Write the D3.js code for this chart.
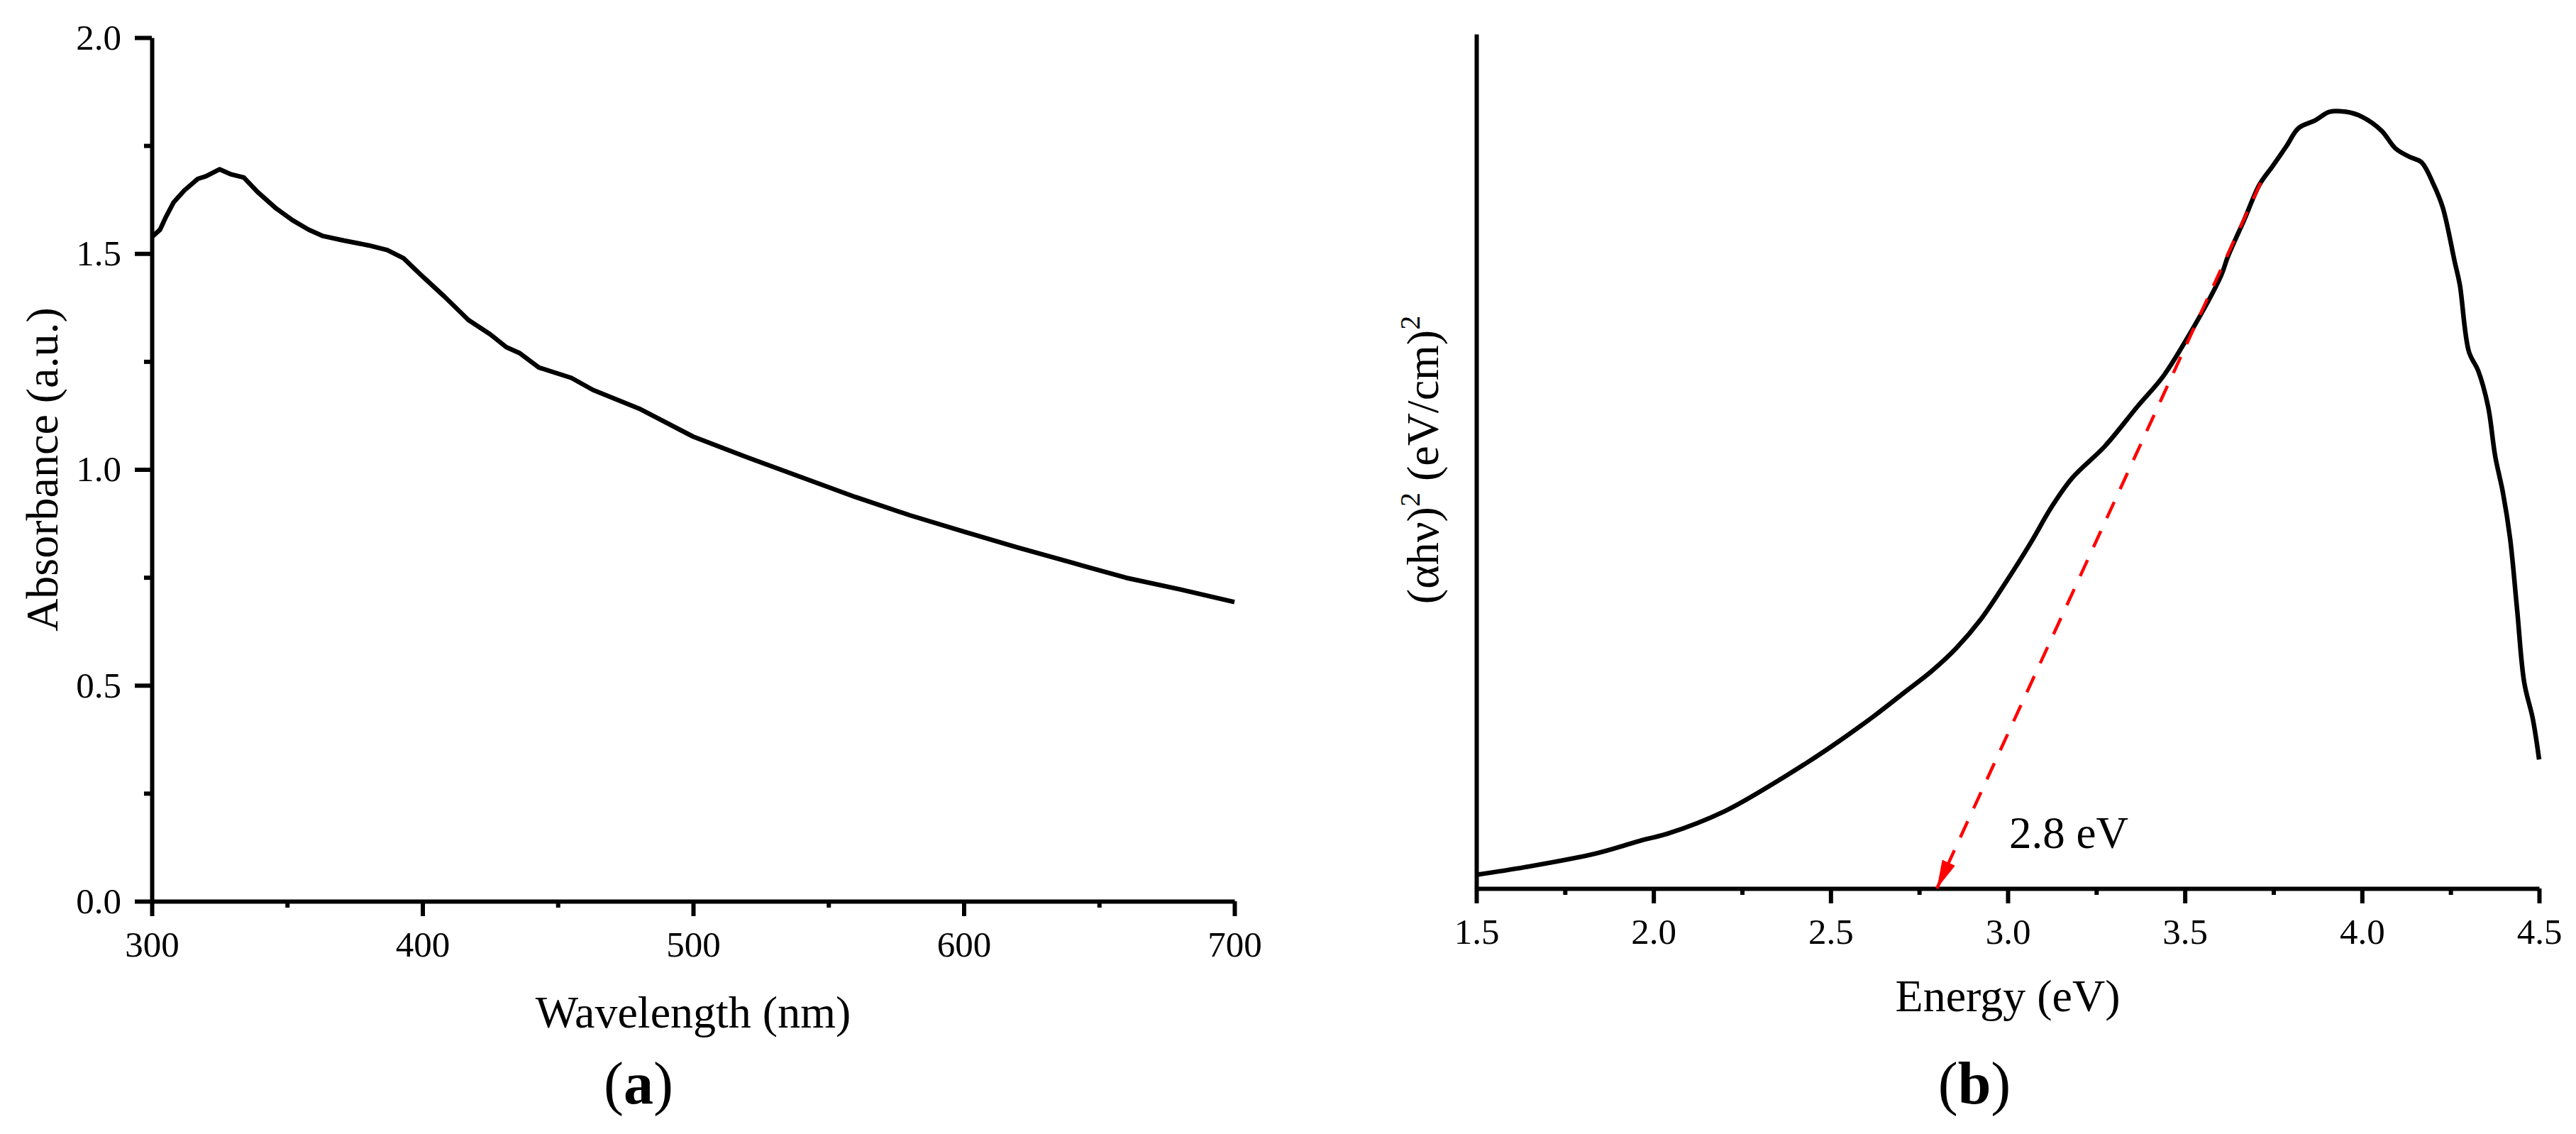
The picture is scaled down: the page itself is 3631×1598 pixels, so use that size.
<!DOCTYPE html>
<html>
<head>
<meta charset="utf-8">
<script src="https://cdn.jsdelivr.net/npm/d3@7"></script>
<style>
  html, body { margin: 0; padding: 0; background: #fff; }
  svg { display: block; }
  svg text { font-family: "Liberation Serif", "Times New Roman", serif; fill: #000; }
</style>
</head>
<body>
<svg id="chart" width="3631" height="1598"></svg>
<script>
// ---- data ----
// (a) UV-vis absorbance
const wavelength = [300, 303, 305, 308, 312, 317, 320, 325, 329, 334, 339, 346, 352, 358, 363, 371, 380, 387,
  393, 399, 408, 417, 425, 431, 436, 443, 455, 463, 480, 500, 520, 540, 560, 580, 600, 620, 640, 660, 680, 700];
const absorbance = [1.538, 1.555, 1.582, 1.618, 1.646, 1.673, 1.679, 1.695, 1.684, 1.676, 1.643, 1.604, 1.577, 1.555,
  1.541, 1.530, 1.519, 1.508, 1.489, 1.453, 1.401, 1.346, 1.313, 1.283, 1.269, 1.236, 1.212, 1.184, 1.141, 1.076,
  1.028, 0.982, 0.936, 0.894, 0.856, 0.819, 0.784, 0.749, 0.722, 0.693];
const wlTicks = [300, 400, 500, 600, 700];
const wlMinor = [350, 450, 550, 650];
const absTicks = [0.0, 0.5, 1.0, 1.5, 2.0];
const absMinor = [0.25, 0.75, 1.25, 1.75];

// (b) Tauc plot, (alpha h nu)^2 in arbitrary units (0-100 = axis height)
const energy = [1.5, 1.638, 1.838, 1.972, 2.039, 2.199, 2.363, 2.491, 2.62, 2.713, 2.784, 2.854, 2.924, 2.994,
  3.064, 3.123, 3.181, 3.275, 3.368, 3.438, 3.508, 3.602, 3.621, 3.667, 3.711, 3.747, 3.787, 3.821, 3.868, 3.908,
  3.955, 4.001, 4.055, 4.095, 4.136, 4.168, 4.202, 4.228, 4.262, 4.276, 4.302, 4.328, 4.356, 4.376, 4.398, 4.418,
  4.438, 4.458, 4.482, 4.5];
const tauc = [1.6, 2.5, 4.1, 5.7, 6.4, 9.0, 12.9, 16.3, 20.1, 23.1, 25.4, 28.1, 31.5, 35.8,
  40.4, 44.6, 48.0, 51.8, 56.5, 59.9, 64.5, 71.7, 73.9, 78.2, 82.4, 84.5, 86.9, 89.0, 89.9, 90.9,
  90.9, 90.3, 88.7, 86.6, 85.6, 85.0, 82.4, 79.7, 73.3, 70.7, 62.8, 60.6, 56.4, 50.6, 46.3, 41.0,
  32.6, 24.1, 19.9, 15.1];
const eTicks = [1.5, 2.0, 2.5, 3.0, 3.5, 4.0, 4.5];
const eMinor = [1.75, 2.25, 2.75, 3.25, 3.75, 4.25];
const fitLine = [[3.714, 82.6], [2.8, 0]];
const gapLabel = '2.8 eV';

// ---- layout ----
const SERIF = 'Liberation Serif';
const TICK_FONT = 51;
const TITLE_FONT = 64;
const AXIS_W = 6;
const LINE_W = 6.5;

const svg = d3.select('#chart');

const xA = d3.scaleLinear().domain([300, 700]).range([214, 1740]);
const yA = d3.scaleLinear().domain([0, 2]).range([1270, 53]);
const xB = d3.scaleLinear().domain([1.5, 4.5]).range([2081, 3579]);
const yB = d3.scaleLinear().domain([0, 100]).range([1252, 48]);

function styleAxis(g) {
    g.attr('font-family', SERIF).attr('font-size', TICK_FONT);
    g.selectAll('path.domain').attr('stroke-width', AXIS_W).attr('stroke', '#000');
    g.selectAll('.tick line').attr('stroke-width', AXIS_W).attr('stroke', '#000');
    g.selectAll('.tick text').attr('font-size', TICK_FONT).attr('font-family', SERIF).attr('fill', '#000');
}

function bottomAxis(x, y0, major, minor, fmt) {
    const gMin = svg.append('g').attr('transform', 'translate(0,' + y0 + ')')
        .call(d3.axisBottom(x).tickValues(minor).tickSize(9).tickFormat(''));
    gMin.select('path.domain').remove();
    styleAxis(gMin);

    const g = svg.append('g').attr('transform', 'translate(0,' + y0 + ')')
        .call(d3.axisBottom(x).tickValues(major).tickSize(21).tickSizeOuter(0).tickFormat(fmt));
    styleAxis(g);
    g.selectAll('.tick text').attr('y', 78).attr('dy', 0);
    return g;
}

// ---- panel (a) ----
bottomAxis(xA, yA(0), wlTicks, wlMinor, d3.format('d'));

const gAyMin = svg.append('g').attr('transform', 'translate(' + xA(300) + ',0)')
    .call(d3.axisLeft(yA).tickValues(absMinor).tickSize(11).tickFormat(''));
gAyMin.select('path.domain').remove();
styleAxis(gAyMin);

const gAy = svg.append('g').attr('transform', 'translate(' + xA(300) + ',0)')
    .call(d3.axisLeft(yA).tickValues(absTicks).tickSize(24).tickSizeOuter(0).tickPadding(19).tickFormat(d3.format('.1f')));
styleAxis(gAy);
gAy.selectAll('.tick text').attr('dy', '0.32em');

svg.append('path')
    .datum(d3.zip(wavelength, absorbance))
    .attr('fill', 'none')
    .attr('stroke', '#000')
    .attr('stroke-width', LINE_W)
    .attr('stroke-linejoin', 'round')
    .attr('d', d3.line().x(d => xA(d[0])).y(d => yA(d[1])));

svg.append('text')
    .attr('x', (xA(300) + xA(700)) / 2).attr('y', 1448)
    .attr('text-anchor', 'middle').attr('font-size', TITLE_FONT)
    .text('Wavelength (nm)');

svg.append('text')
    .attr('transform', 'translate(81,' + (yA(0) + yA(2)) / 2 + ') rotate(-90)')
    .attr('text-anchor', 'middle').attr('font-size', TITLE_FONT)
    .text('Absorbance (a.u.)');

const capA = svg.append('text')
    .attr('x', 900).attr('y', 1555)
    .attr('text-anchor', 'middle').attr('font-size', 84);
capA.append('tspan').text('(');
capA.append('tspan').attr('font-weight', 'bold').text('a');
capA.append('tspan').text(')');

// ---- panel (b) ----
bottomAxis(xB, yB(0), eTicks, eMinor, d3.format('.1f'));

const gBy = svg.append('g').attr('transform', 'translate(' + xB(1.5) + ',0)')
    .call(d3.axisLeft(yB).tickValues([]).tickSizeOuter(0));
styleAxis(gBy);

svg.append('path')
    .datum(d3.zip(energy, tauc))
    .attr('fill', 'none')
    .attr('stroke', '#000')
    .attr('stroke-width', LINE_W)
    .attr('stroke-linejoin', 'round')
    .attr('d', d3.line().curve(d3.curveCatmullRom.alpha(0.5)).x(d => xB(d[0])).y(d => yB(d[1])));

// red arrowhead for the extrapolated fit
svg.append('defs').append('marker')
    .attr('id', 'arrow')
    .attr('markerUnits', 'userSpaceOnUse')
    .attr('viewBox', '0 -10 40 20')
    .attr('markerWidth', 40).attr('markerHeight', 20)
    .attr('refX', 40).attr('refY', 0)
    .attr('orient', 'auto')
    .append('path')
    .attr('d', 'M0,-10L40,0L0,10Z')
    .attr('fill', '#ff0000');

svg.append('path')
    .datum(fitLine)
    .attr('fill', 'none')
    .attr('stroke', '#ff0000')
    .attr('stroke-width', 4.5)
    .attr('stroke-dasharray', '25,20')
    .attr('marker-end', 'url(#arrow)')
    .attr('d', d3.line().x(d => xB(d[0])).y(d => yB(d[1])));

svg.append('text')
    .attr('x', xB(3.0) + 2).attr('y', yB(0) - 57)
    .attr('font-size', 63)
    .text(gapLabel);

svg.append('text')
    .attr('x', (xB(1.5) + xB(4.5)) / 2).attr('y', 1425)
    .attr('text-anchor', 'middle').attr('font-size', TITLE_FONT)
    .text('Energy (eV)');

const yLabB = svg.append('text')
    .attr('transform', 'translate(2027,648) rotate(-90)')
    .attr('text-anchor', 'middle').attr('font-size', TITLE_FONT);
yLabB.append('tspan').text('(\u03b1h\u03bd)');
yLabB.append('tspan').attr('font-size', 40).attr('dy', -26).text('2');
yLabB.append('tspan').attr('dy', 26).text(' (eV/cm)');
yLabB.append('tspan').attr('font-size', 40).attr('dy', -26).text('2');

const capB = svg.append('text')
    .attr('x', 2783).attr('y', 1555)
    .attr('text-anchor', 'middle').attr('font-size', 84);
capB.append('tspan').text('(');
capB.append('tspan').attr('font-weight', 'bold').text('b');
capB.append('tspan').text(')');

console.log('draw absorbance and tauc plots');
</script>
</body>
</html>
